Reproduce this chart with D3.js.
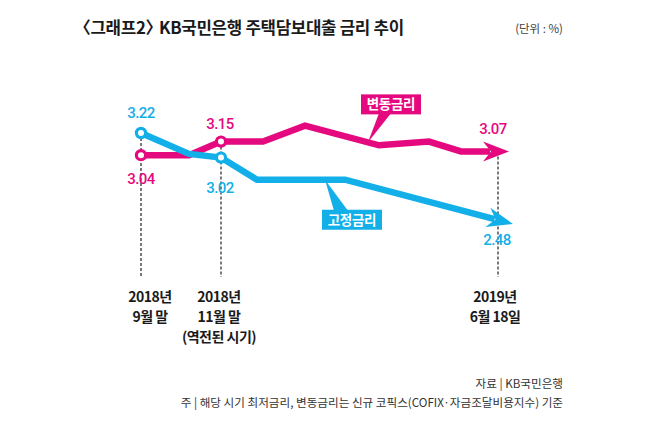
<!DOCTYPE html>
<html>
<head>
<meta charset="utf-8">
<script src="https://cdn.jsdelivr.net/npm/d3@7"></script>
<style>
  body { margin: 0; background: #fff; }
  svg { display: block; }
</style>
</head>
<body>
<script>
// month index, 0 = end of Sep 2018
var varMonth = [0, 1.2, 2, 3.05, 4.1, 5.95, 7.2, 8, 9.2],
    varRate = [3.04, 3.04, 3.15, 3.15, 3.28, 3.12, 3.15, 3.07, 3.07];

var fixMonth = [0, 1.2, 2, 2.9, 5.1, 9.3],
    fixRate = [3.22, 3.05, 3.02, 2.84, 2.84, 2.48];

var markMonth = [0, 2, 8.925],
    markLabels = [["2018년", "9월 말"], ["2018년", "11월 말", "(역전된 시기)"], ["2019년", "6월 18일"]];

// value callouts: series, month, text
var valueLabels = [
    ["fix", 0, "3.22"], ["var", 0, "3.04"],
    ["var", 2, "3.15"], ["fix", 2, "3.02"],
    ["var", 8.925, "3.07"], ["fix", 8.925, "2.48"]
];

function plot_rate_chart()
{
    var width = 650,
        height = 433,
        pink = "#e5097f",
        blue = "#13afe8",
        lineWidth = 6.5;

    var x = d3.scaleLinear().domain([0, 9]).range([141, 501]);
    var y = d3.scaleLinear().domain([2.48, 3.22]).range([224, 133]);

    var svg = d3.select("body")
        .append("svg")
        .attr("width", width)
        .attr("height", height);

    var series = {
        "var": { months: varMonth, rates: varRate, color: pink },
        "fix": { months: fixMonth, rates: fixRate, color: blue }
    };

    function interp(s, m) {
        var ms = s.months, rs = s.rates;
        for (var i = 1; i < ms.length; i++) {
            if (m <= ms[i]) {
                var t = (m - ms[i - 1]) / (ms[i] - ms[i - 1]);
                return rs[i - 1] + t * (rs[i] - rs[i - 1]);
            }
        }
        return rs[rs.length - 1];
    }

    // title (CJK brackets are full width, pull the next word in a bit)
    var title = svg.append("text")
        .attr("x", 74).attr("y", 34)
        .style("font-family", "'Noto Sans CJK KR'")
        .style("font-weight", 700)
        .style("font-size", "16.8px")
        .style("letter-spacing", "-0.3px")
        .style("fill", "#1a1a1a");
    title.append("tspan").text("〈그래프2〉");
    title.append("tspan").attr("dx", -3).text("KB국민은행 주택담보대출 금리 추이");

    svg.append("text")
        .attr("x", 563).attr("y", 33)
        .attr("text-anchor", "end")
        .style("font-family", "'Noto Sans CJK KR'")
        .style("font-size", "11.5px")
        .style("fill", "#444")
        .text("(단위 :  %)");

    // dashed guides
    svg.selectAll(".guide")
        .data(markMonth)
        .enter().append("line")
        .attr("class", "guide")
        .attr("x1", function(d) { return x(d); })
        .attr("x2", function(d) { return x(d); })
        .attr("y1", function(d) { return y(Math.max(interp(series["var"], d), interp(series["fix"], d))); })
        .attr("y2", 277)
        .style("stroke", "#222")
        .style("stroke-width", 1.2)
        .style("stroke-dasharray", "3,2");

    // lines with arrow heads
    var L = 26, W = 10, N = 8;
    ["var", "fix"].forEach(function(key) {
        var s = series[key];
        var pts = s.months.map(function(m, i) { return [x(m), y(s.rates[i])]; });
        var p = pts[pts.length - 1], q = pts[pts.length - 2];
        var dx = p[0] - q[0], dy = p[1] - q[1], len = Math.sqrt(dx * dx + dy * dy);
        var ux = dx / len, uy = dy / len, nx = -uy, ny = ux;
        var cut = L - N + 1;
        var linePts = pts.slice(0, -1).concat([[p[0] - cut * ux, p[1] - cut * uy]]);

        svg.append("path")
            .attr("d", d3.line()(linePts))
            .style("fill", "none")
            .style("stroke", s.color)
            .style("stroke-width", lineWidth)
            .style("stroke-linejoin", "miter");

        var head = [
            p,
            [p[0] - L * ux + W * nx, p[1] - L * uy + W * ny],
            [p[0] - (L - N) * ux, p[1] - (L - N) * uy],
            [p[0] - L * ux - W * nx, p[1] - L * uy - W * ny]
        ];
        svg.append("path")
            .attr("d", d3.line()(head) + "Z")
            .style("fill", s.color);
    });

    // markers at first two guide dates
    var dots = [];
    [0, 2].forEach(function(m) {
        dots.push({ s: "var", m: m });
        dots.push({ s: "fix", m: m });
    });
    svg.selectAll(".dot")
        .data(dots)
        .enter().append("circle")
        .attr("class", "dot")
        .attr("cx", function(d) { return x(d.m); })
        .attr("cy", function(d) { return y(interp(series[d.s], d.m)); })
        .attr("r", 4.6)
        .style("fill", "#fff")
        .style("stroke", function(d) { return series[d.s].color; })
        .style("stroke-width", 3.2);

    // value labels
    var labelOffset = { "3.22": [0, -15], "3.04": [0, 29], "3.15": [-1, -13], "3.02": [-1, 35], "3.07": [-5, -17], "2.48": [-1, 25] };
    svg.selectAll(".val")
        .data(valueLabels)
        .enter().append("text")
        .attr("class", "val")
        .attr("x", function(d) { return x(d[1]) + labelOffset[d[2]][0]; })
        .attr("y", function(d) { return y(interp(series[d[0]], d[1])) + labelOffset[d[2]][1]; })
        .attr("text-anchor", "middle")
        .style("font-family", "Roboto")
        .style("font-weight", 500)
        .style("font-size", "15px")
        .style("letter-spacing", "-0.6px")
        .style("fill", function(d) { return series[d[0]].color; })
        .text(function(d) { return d[2]; });

    // series name callouts
    function callout(key, m, text, below) {
        var s = series[key];
        var tx = x(m), ty = y(interp(s, m));
        var bw = 60, bh = 20;
        var bx = below ? tx - 3 : tx - 7,
            by = below ? ty + 30 : ty - 48;
        var tri = below
            ? [[tx, ty], [bx + 12, by + 1], [bx + 26, by + 1]]
            : [[tx, ty], [bx + 18, by + bh - 1], [bx + 30, by + bh - 1]];
        svg.append("path")
            .attr("d", d3.line()(tri) + "Z")
            .style("fill", s.color);
        svg.append("rect")
            .attr("x", bx).attr("y", by)
            .attr("width", bw).attr("height", bh)
            .style("fill", s.color);
        svg.append("text")
            .attr("x", bx + bw / 2).attr("y", by + bh / 2 + 5)
            .attr("text-anchor", "middle")
            .style("font-family", "'Noto Sans CJK KR'")
            .style("font-weight", 700)
            .style("font-size", "13.5px")
            .style("letter-spacing", "-0.3px")
            .style("fill", "#fff")
            .text(text);
    }
    callout("var", 5.675, "변동금리", false);
    callout("fix", 4.6, "고정금리", true);

    // date labels
    var labelDx = [9, -2, -3];
    var g = svg.selectAll(".date")
        .data(markMonth)
        .enter().append("text")
        .attr("class", "date")
        .attr("text-anchor", "middle")
        .style("font-family", "'Noto Sans CJK KR'")
        .style("font-weight", 700)
        .style("font-size", "14px")
        .style("letter-spacing", "-0.5px")
        .style("fill", "#1a1a1a");
    g.each(function(d, i) {
        var t = d3.select(this);
        markLabels[i].forEach(function(line, j) {
            t.append("tspan")
                .attr("x", x(d) + labelDx[i])
                .attr("y", 302 + j * 20)
                .text(line);
        });
    });

    // source and note
    var foot = svg.append("g")
        .style("font-family", "'Noto Sans CJK KR'")
        .style("font-size", "11.6px")
        .style("fill", "#333");
    foot.append("text")
        .attr("x", 563).attr("y", 388)
        .attr("text-anchor", "end")
        .text("자료 | KB국민은행");
    foot.append("text")
        .attr("x", 563).attr("y", 407)
        .attr("text-anchor", "end")
        .text("주 | 해당 시기 최저금리, 변동금리는 신규 코픽스(COFIX·자금조달비용지수) 기준");
}

plot_rate_chart();
</script>
</body>
</html>
